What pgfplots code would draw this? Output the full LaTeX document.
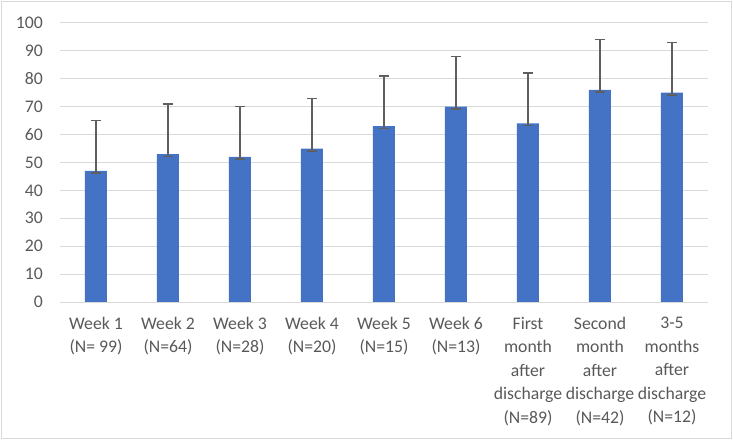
\documentclass[border=0pt]{standalone}
\usepackage{fontspec}
\setmainfont{Carlito}
\usepackage{pgfplots}
\usepackage{pgfplotstable}
\pgfplotsset{compat=1.18}

\definecolor{barblue}{HTML}{4472C4}
\definecolor{gridgray}{HTML}{D9D9D9}
\definecolor{labelgray}{HTML}{595959}
\definecolor{errgray}{HTML}{5F5F5F}

% value, error above the bar, small tick just below the bar top
\pgfplotstableread{
x  y   ep  em
0  47  18  0.8
1  53  18  0.8
2  52  18  0.8
3  55  18  0.8
4  63  18  0.8
5  70  18  0.8
6  64  18  0.8
7  76  18  0.8
8  75  18  0.8
}\scores

\begin{document}
\begin{tikzpicture}
\useasboundingbox (0,0) rectangle (733bp,440bp);
\draw[gridgray, line width=1bp] (1.5bp,1.5bp) rectangle (731.5bp,438.5bp);
\begin{axis}[
    at={(60bp,138bp)}, anchor=south west,
    scale only axis,
    width=648bp, height=279bp,
    xmin=-0.5, xmax=8.5,
    ymin=0, ymax=100,
    ytick={0,10,...,100},
    xtick={0,...,8},
    xticklabels={
        {Week 1\\(N= 99)},
        {Week 2\\(N=64)},
        {Week 3\\(N=28)},
        {Week 4\\(N=20)},
        {Week 5\\(N=15)},
        {Week 6\\(N=13)},
        {First\\month\\after\\discharge\\(N=89)},
        {Second\\month\\after\\discharge\\(N=42)},
        {3-5\\months\\after\\discharge\\(N=12)}},
    axis line style={draw=none},
    major tick length=0pt,
    tick style={draw=none},
    ymajorgrids,
    grid style={gridgray, line width=1bp},
    /pgf/number format/assume math mode=true,
    yticklabel style={inner sep=0pt, anchor=east, xshift=-17bp,
        text=labelgray, font=\fontsize{17.7bp}{23.5bp}\selectfont},
    xticklabel style={inner sep=0pt, anchor=north, yshift=-15bp, align=center,
        text=labelgray, font=\fontsize{17.7bp}{23.5bp}\selectfont},
    ybar,
]
\addplot[ybar, bar width=22bp, fill=barblue, draw=none,
    error bars/.cd, y dir=both, y explicit,
    error bar style={errgray, line width=1.5bp},
    error mark options={rotate=90, errgray, mark size=5bp, line width=1.5bp}]
    table[x=x, y=y, y error plus=ep, y error minus=em] {\scores};
\end{axis}
\end{tikzpicture}
\end{document}
